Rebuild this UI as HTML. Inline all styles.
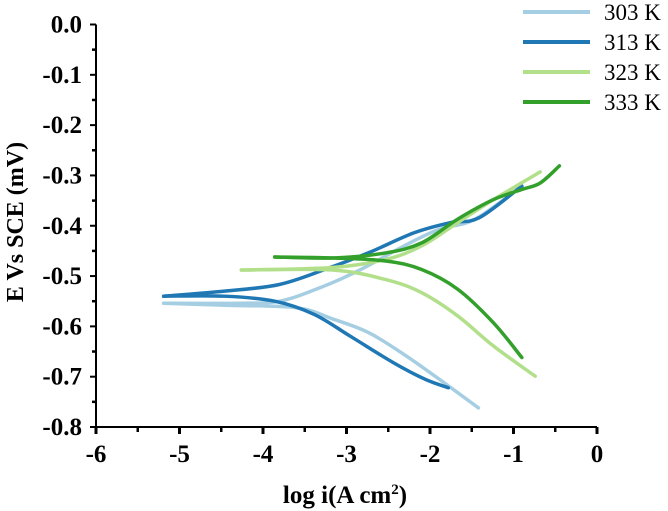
<!DOCTYPE html>
<html><head><meta charset="utf-8"><style>
body{margin:0;background:#fff}
svg{display:block;font-family:"Liberation Serif",serif}
</style></head><body>
<svg id="chart" width="668" height="511" viewBox="0 0 668 511" xmlns="http://www.w3.org/2000/svg">
<g id="axes"></g><g id="series"></g><g id="legend"></g>
</svg>
<script>
const xTicks=[-6,-5,-4,-3,-2,-1,0];
const yTicks=[0.0,-0.1,-0.2,-0.3,-0.4,-0.5,-0.6,-0.7,-0.8];
const seriesNames=["303 K","313 K","323 K","333 K"];
const seriesColors=["#a6cee3","#1f78b4","#b2df8a","#33a02c"];
const s303AnodicX=[-5.19,-4.3,-3.8,-3.3,-2.83,-2.31,-1.89,-1.46,-0.90];
const s303AnodicY=[-0.554,-0.554,-0.550,-0.522,-0.487,-0.440,-0.407,-0.387,-0.321];
const s303CathodicX=[-5.19,-4.46,-3.60,-3.17,-2.74,-2.31,-1.89,-1.42];
const s303CathodicY=[-0.554,-0.558,-0.563,-0.585,-0.612,-0.656,-0.705,-0.762];
const s313AnodicX=[-5.19,-4.46,-3.81,-3.26,-2.74,-2.19,-1.76,-1.41,-0.90];
const s313AnodicY=[-0.540,-0.530,-0.517,-0.487,-0.454,-0.414,-0.394,-0.384,-0.321];
const s313CathodicX=[-5.19,-4.46,-3.86,-3.39,-2.96,-2.44,-2.06,-1.78];
const s313CathodicY=[-0.540,-0.540,-0.550,-0.576,-0.619,-0.672,-0.705,-0.722];
const s323AnodicX=[-4.26,-3.17,-2.53,-2.10,-1.67,-1.24,-0.68];
const s323AnodicY=[-0.488,-0.483,-0.467,-0.440,-0.394,-0.348,-0.293];
const s323CathodicX=[-4.26,-3.17,-2.53,-2.10,-1.67,-1.24,-0.74];
const s323CathodicY=[-0.488,-0.488,-0.507,-0.533,-0.579,-0.639,-0.699];
const s333AnodicX=[-3.86,-3.17,-2.53,-2.10,-1.67,-1.24,-0.90,-0.68,-0.45];
const s333AnodicY=[-0.462,-0.464,-0.454,-0.434,-0.387,-0.348,-0.328,-0.315,-0.281];
const s333CathodicX=[-3.86,-3.17,-2.53,-2.10,-1.67,-1.24,-0.90];
const s333CathodicY=[-0.462,-0.464,-0.470,-0.487,-0.526,-0.593,-0.662];

const X0=96,X1=597,Y0=24.5,Y1=427;
const sx=v=>X0+(v+6)/6*(X1-X0);
const sy=v=>Y0+(0-v)/0.8*(Y1-Y0);
const NS="http://www.w3.org/2000/svg";
function mk(tag,attrs,parent){const e=document.createElementNS(NS,tag);for(const k in attrs)e.setAttribute(k,attrs[k]);parent.appendChild(e);return e;}
const axes=document.getElementById('axes');
const yl=mk('line',{x1:X0,y1:Y0,x2:X0,y2:Y1,stroke:'#000','stroke-width':2},axes);


const xl=mk('line',{x1:X0-1,y1:Y1,x2:X1,y2:Y1,stroke:'#000','stroke-width':2},axes);


yTicks.forEach((t,i)=>{
  const y=sy(t);
  mk('line',{x1:X0-6,y1:y,x2:X0,y2:y,stroke:'#000','stroke-width':2},axes);
  if(i<yTicks.length-1){mk('line',{x1:X0-4,y1:sy(t-0.05),x2:X0,y2:sy(t-0.05),stroke:'#000','stroke-width':2.5},axes);}
  const tx=mk('text',{x:X0-14,y:y+8,'text-anchor':'end','font-size':25,'font-weight':'bold'},axes);
  tx.textContent=t.toFixed(1);
  
  
});
xTicks.forEach((t,i)=>{
  const x=sx(t);
  mk('line',{x1:x,y1:Y1,x2:x,y2:Y1+7,stroke:'#000','stroke-width':3},axes);
  if(i<xTicks.length-1){mk('line',{x1:sx(t+0.5),y1:Y1,x2:sx(t+0.5),y2:Y1+5,stroke:'#000','stroke-width':2.5},axes);}
  const tx=mk('text',{x:x,y:Y1+35,'text-anchor':'middle','font-size':25,'font-weight':'bold'},axes);
  tx.textContent=String(t);
  
  
});
const xt=mk('text',{x:345,y:503,'text-anchor':'middle','font-size':25,'font-weight':'bold'},axes);
xt.innerHTML='log i(A cm<tspan font-size="15" dy="-9">2</tspan><tspan dy="9">)</tspan>';


const yt=mk('text',{x:0,y:0,'text-anchor':'middle','font-size':24,'font-weight':'bold',transform:'translate(23,222) rotate(-90)'},axes);
yt.textContent='E Vs SCE (mV)';



function pathD(xs,ys){
  const p=xs.map((x,i)=>[sx(x),sy(ys[i])]);
  let d=`M${p[0][0]},${p[0][1]}`;
  for(let i=0;i<p.length-1;i++){
    const a=p[i-1]||p[i],b=p[i],c=p[i+1],e=p[i+2]||c;
    const c1=[b[0]+(c[0]-a[0])/6,b[1]+(c[1]-a[1])/6],c2=[c[0]-(e[0]-b[0])/6,c[1]-(e[1]-b[1])/6];
    d+=` C${c1[0]},${c1[1]} ${c2[0]},${c2[1]} ${c[0]},${c[1]}`;
  }
  return d;
}
const ser=document.getElementById('series');
const branches=[[0,s303AnodicX,s303AnodicY,'303-anodic'],[0,s303CathodicX,s303CathodicY,'303-cathodic'],
[1,s313AnodicX,s313AnodicY,'313-anodic'],[1,s313CathodicX,s313CathodicY,'313-cathodic'],
[2,s323AnodicX,s323AnodicY,'323-anodic'],[2,s323CathodicX,s323CathodicY,'323-cathodic'],
[3,s333AnodicX,s333AnodicY,'333-anodic'],[3,s333CathodicX,s333CathodicY,'333-cathodic']];
branches.forEach(b=>{
  const p=mk('path',{d:pathD(b[1],b[2]),fill:'none',stroke:seriesColors[b[0]],'stroke-width':3.5,'stroke-linecap':'round'},ser);
  
  
});
const leg=document.getElementById('legend');
seriesNames.forEach((n,i)=>{
  const y=12+i*30;
  const g=mk('g',{},leg);
  
  
  mk('line',{x1:523,y1:y,x2:590,y2:y,stroke:seriesColors[i],'stroke-width':4},g);
  const t=mk('text',{x:604,y:y+8,'font-size':23},g);
  t.textContent=n;
});
</script>
</body></html>
